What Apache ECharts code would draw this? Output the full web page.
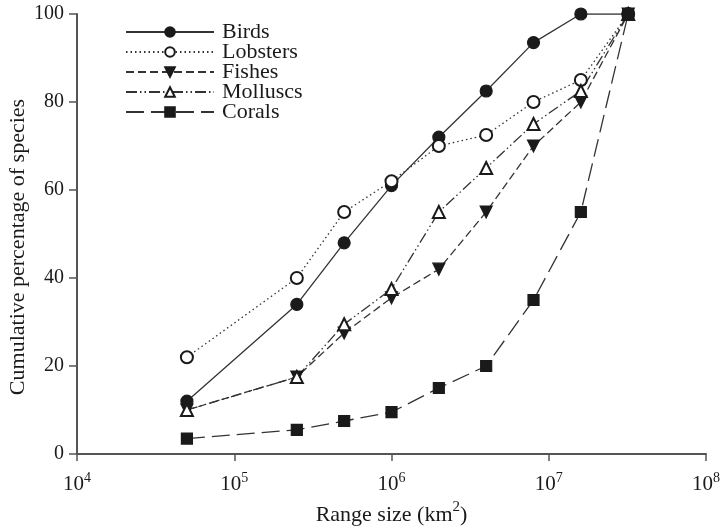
<!DOCTYPE html>
<html>
<head>
<meta charset="utf-8">
<script src="https://cdn.jsdelivr.net/npm/echarts@6/dist/echarts.min.js"></script>
<style>
  html, body { margin: 0; padding: 0; background: #fff; }
  #chart { width: 721px; height: 526px; }
</style>
</head>
<body>
<div id="chart"></div>
<script>
// range sizes (km2) where each species group was sampled
var rangeSizes = [5e4, 2.5e5, 5e5, 1e6, 2e6, 4e6, 8e6, 1.6e7, 3.2e7];
// cumulative percentage of species
var birds    = [12, 34, 48, 61, 72, 82.5, 93.5, 100, 100];
var lobsters = [22, 40, 55, 62, 70, 72.5, 80, 85, 100];
var fishes   = [10, 17.5, 27.5, 35.5, 42, 55, 70, 80, 100];
var molluscs = [10, 17.5, 29.5, 37.5, 55, 65, 75, 82.5, 100];
var corals   = [3.5, 5.5, 7.5, 9.5, 15, 20, 35, 55, 100];
var yTicks = [0, 20, 40, 60, 80, 100];

var FONT = '"Liberation Serif", "Times New Roman", serif';
var INK = '#1a1a1a';

function pairs(ys) {
  var out = [];
  for (var i = 0; i < rangeSizes.length; i++) out.push([rangeSizes[i], ys[i]]);
  return out;
}

function makeSeries(name, ys, symbol, dash, rotate) {
  return {
    name: name,
    type: 'line',
    data: pairs(ys),
    symbol: symbol,
    symbolSize: symbol === 'rect' ? 11 : 12,
    symbolRotate: rotate || 0,
    showAllSymbol: true,
    lineStyle: { color: '#333', width: 1.3, type: dash },
    itemStyle: { color: INK, borderColor: INK, borderWidth: 1.2 },
    emphasis: { disabled: true },
    animation: false
  };
}

var chart = echarts.init(document.getElementById('chart'));
chart.setOption({
  backgroundColor: '#fff',
  textStyle: { fontFamily: FONT },
  grid: { left: 77, right: 15, top: 14, bottom: 72, containLabel: false, outerBoundsMode: 'none' },
  legend: {
    orient: 'vertical',
    left: 125,
    top: 21,
    padding: 0,
    itemWidth: 88,
    itemHeight: 12,
    itemGap: -2,
    textStyle: { fontFamily: FONT, fontSize: 22, lineHeight: 20, color: INK, padding: [0, 0, 0, 3] },
    data: ['Birds', 'Lobsters', 'Fishes', 'Molluscs', 'Corals']
  },
  xAxis: {
    type: 'log',
    logBase: 10,
    min: 1e4,
    max: 1e8,
    name: '{b|Range size (km}{s|2}{b|)}',
    nameLocation: 'middle',
    nameGap: 44,
    nameTextStyle: {
      fontFamily: FONT, fontSize: 22, color: INK,
      rich: {
        b: { fontSize: 22, fontFamily: FONT, color: INK, lineHeight: 26, verticalAlign: 'bottom' },
        s: { fontSize: 15, fontFamily: FONT, color: INK, lineHeight: 26, verticalAlign: 'top' }
      }
    },
    axisLine: { lineStyle: { color: '#555', width: 2 } },
    axisTick: { show: true, inside: false, length: 7, lineStyle: { color: '#555', width: 1.5 } },
    splitLine: { show: false },
    minorTick: { show: false },
    axisLabel: {
      margin: 17,
      color: INK,
      fontFamily: FONT,
      formatter: function (v) {
        return '{b|10}{s|' + Math.round(Math.log10(v)) + '}';
      },
      rich: {
        b: { fontSize: 21, fontFamily: FONT, color: INK, lineHeight: 24, verticalAlign: 'bottom' },
        s: { fontSize: 14, fontFamily: FONT, color: INK, lineHeight: 24, verticalAlign: 'top' }
      }
    }
  },
  yAxis: {
    type: 'value',
    min: yTicks[0],
    max: yTicks[yTicks.length - 1],
    interval: 20,
    name: 'Cumulative percentage of species',
    nameLocation: 'middle',
    nameGap: 48,
    nameMoveOverlap: false,
    nameTextStyle: { fontFamily: FONT, fontSize: 22, color: INK, padding: [0, 26, 0, 0] },
    axisLine: { show: true, lineStyle: { color: '#555', width: 2 } },
    axisTick: { show: true, inside: false, length: 8, lineStyle: { color: '#555', width: 1.5 } },
    splitLine: { show: false },
    axisLabel: { margin: 13, fontSize: 20, fontFamily: FONT, color: INK }
  },
  series: [
    makeSeries('Birds', birds, 'circle', 'solid'),
    makeSeries('Lobsters', lobsters, 'emptyCircle', [1.5, 3]),
    makeSeries('Fishes', fishes, 'triangle', [8, 4], 180),
    makeSeries('Molluscs', molluscs, 'emptyTriangle', [11, 3, 1.5, 3, 1.5, 3]),
    makeSeries('Corals', corals, 'rect', [18, 7])
  ]
});
</script>
</body>
</html>
